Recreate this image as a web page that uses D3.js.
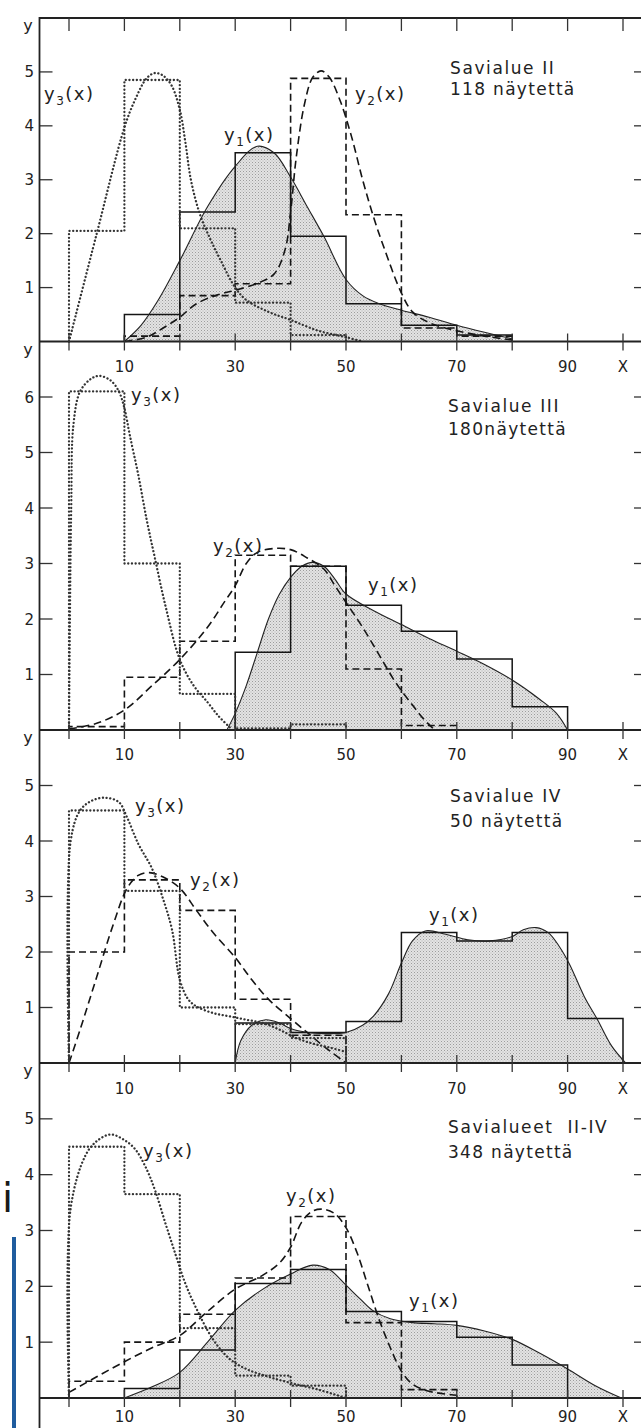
<!DOCTYPE html>
<html><head><meta charset="utf-8">
<script src="https://cdn.jsdelivr.net/npm/d3@7"></script>
<style>html,body{margin:0;padding:0;background:#fff;}svg{display:block;}</style>
</head><body>
<svg id="c" width="641" height="1428"></svg>
<script>
// ---------- DATA ----------
const binStarts = [0,10,20,30,40,50,60,70,80,90];
const xTickValues = [0,10,20,30,40,50,60,70,80,90,100];
const xLabelValues = [10,30,50,70,90,100];
const xLabelTexts = ["10","30","50","70","90","X"];

const p1Title = ["Savialue II","118 näytettä"];
const p1YMax = 6;
const p1Y1Hist = [null,0.5,2.4,3.5,1.95,0.7,0.3,0.12,null,null];
const p1Y2Hist = [null,0.1,0.85,1.07,4.88,2.35,0.25,0.1,null,null];
const p1Y3Hist = [2.05,4.85,2.1,0.72,0.12,null,null,null,null,null];
const p1Y1Curve = [[10,0],[13,0.3],[16,0.75],[20,1.5],[25,2.5],[30,3.25],[34,3.62],[37,3.5],[40,3.05],[43,2.5],[46,1.95],[50,1.15],[53,0.85],[56,0.7],[60,0.58],[65,0.45],[70,0.3],[75,0.17],[80,0.05]];
const p1Y2Curve = [[10,0],[14,0.08],[17,0.25],[20,0.45],[23,0.7],[27,0.87],[30,0.95],[34,1.08],[37,1.25],[39,1.7],[40,2.4],[41,3.4],[42.5,4.4],[44,4.9],[45.5,5.02],[47,4.9],[49,4.45],[51,3.8],[53,3.0],[55,2.3],[57,1.7],[60,0.9],[62,0.55],[65,0.35],[70,0.2],[75,0.1],[80,0.03]];
const p1Y3Curve = [[0,0],[5,2.0],[10,3.97],[12,4.5],[14,4.88],[15.5,4.98],[17,4.93],[18.5,4.75],[20,4.3],[21,3.7],[22,3.0],[23.6,2.37],[25.5,1.9],[27.4,1.5],[30,1.0],[32,0.77],[36,0.55],[40,0.4],[45,0.2],[50,0.08],[53,0]];

const p2Title = ["Savialue III","180näytettä"];
const p2YMax = 7;
const p2Y1Hist = [null,null,null,1.4,2.95,2.25,1.78,1.28,0.42,null];
const p2Y2Hist = [0.06,0.95,1.6,3.15,2.95,1.1,0.08,null,null,null];
const p2Y3Hist = [6.1,3.0,0.65,0.03,0.1,null,null,null,null,null];
const p2Y1Curve = [[28.5,0],[30,0.3],[32,0.8],[34,1.4],[36,2.0],[38,2.45],[40,2.75],[42,2.95],[44,3.02],[46,2.95],[48,2.72],[50,2.45],[55,2.15],[60,1.9],[65,1.65],[70,1.42],[75,1.18],[80,0.9],[85,0.55],[88,0.3],[90,0]];
const p2Y2Curve = [[0,0.02],[5,0.12],[10,0.36],[15,0.8],[20,1.27],[25,1.85],[28,2.3],[30,2.6],[32,3.0],[34,3.2],[37,3.27],[40,3.25],[43,3.1],[46,2.9],[48,2.6],[50,2.3],[53,1.85],[56,1.35],[59,0.85],[62,0.45],[64,0.2],[66,0]];
const p2Y3Curve = [[0,0],[0.4,4],[0.8,5.5],[2,6.1],[4,6.33],[5.5,6.38],[7.5,6.3],[9,6.1],[10,5.8],[11,5.3],[12.5,4.6],[14,3.8],[15.5,3.1],[17.5,2.2],[20,1.27],[22.5,0.8],[25,0.5],[27,0.25],[29,0.05]];

const p3Title = ["Savialue IV","50 näytettä"];
const p3YMax = 6;
const p3Y1Hist = [null,null,null,0.72,0.55,0.75,2.35,2.2,2.35,0.8];
const p3Y2Hist = [2.0,3.3,2.75,1.15,0.5,null,null,null,null,null];
const p3Y3Hist = [4.55,3.1,1.0,0.7,0.45,null,null,null,null,null];
const p3Y1Curve = [[30,0],[31,0.4],[33,0.68],[35.5,0.78],[38,0.72],[40,0.62],[43,0.55],[46,0.53],[50,0.55],[53,0.68],[55,0.85],[57.7,1.25],[60,1.8],[62,2.2],[64.3,2.38],[68,2.32],[72,2.22],[76,2.2],[80,2.28],[82,2.4],[84.3,2.44],[86.5,2.35],[88.5,2.1],[90.3,1.79],[93,1.2],[95.4,0.78],[98,0.3],[100.5,0]];
const p3Y2Curve = [[0,0],[2,0.6],[5,1.55],[8,2.5],[10.5,3.15],[12.5,3.38],[14.5,3.43],[17,3.35],[20,3.15],[23,2.75],[26,2.35],[30,1.9],[33,1.5],[36,1.15],[40,0.8],[43,0.55],[46,0.3],[50,0]];
const p3Y3Curve = [[0,0],[0.3,4.0],[2,4.55],[4,4.72],[6.5,4.78],[9,4.7],[10.5,4.42],[12.5,3.95],[15,3.5],[17,2.95],[18.6,2.4],[20,1.5],[21.5,1.15],[23,1.02],[26,0.9],[29,0.84],[32,0.78],[35,0.72],[38,0.6],[41,0.45],[44,0.35],[47,0.28],[50,0.2]];

const p4Title = ["Savialueet  II-IV","348 näytettä"];
const p4YMax = 6;
const p4Y1Hist = [null,0.17,0.86,2.05,2.3,1.55,1.37,1.09,0.59,null];
const p4Y2Hist = [0.3,1.0,1.5,2.15,3.25,1.35,0.15,null,null,null];
const p4Y3Hist = [4.5,3.65,1.25,0.4,0.22,null,null,null,null,null];
const p4Y1Curve = [[10,0],[15,0.2],[20,0.46],[25,1.0],[30,1.57],[35,1.95],[40,2.22],[44,2.38],[47,2.3],[50,2.02],[52.5,1.78],[54.8,1.57],[58,1.42],[62,1.35],[66,1.33],[70,1.3],[75,1.2],[80,1.05],[85,0.8],[90,0.52],[95,0.22],[99.7,0]];
const p4Y2Curve = [[0,0.1],[5,0.38],[10,0.65],[15,0.9],[20,1.12],[25,1.55],[30,1.95],[35,2.2],[38,2.42],[40,2.7],[42,3.15],[44,3.35],[46,3.38],[48,3.3],[50,3.05],[52,2.6],[54,2.0],[56,1.4],[58,0.9],[60,0.48],[62,0.25],[65,0.12],[70,0.05]];
const p4Y3Curve = [[0,0],[0.3,3.4],[3,4.35],[5,4.6],[7.5,4.72],[10,4.62],[12,4.45],[14,4.1],[15.6,3.7],[17.5,3.1],[19.3,2.55],[21,2.05],[23,1.6],[26,1.05],[29,0.7],[32,0.52],[36,0.38],[40,0.27],[45,0.15],[50,0]];

// ---------- LAYOUT ----------
const svg = d3.select("#c");
const FONT = "'DejaVu Sans', sans-serif";
const axisX = 39.5;
const x = d3.scaleLinear().domain([0,100]).range([69,623]);

const defs = svg.append("defs");
const pat = defs.append("pattern").attr("id","stip").attr("patternUnits","userSpaceOnUse").attr("width",3).attr("height",3);
pat.append("rect").attr("width",3).attr("height",3).attr("fill","#e3e3e3");
pat.append("rect").attr("x",0).attr("y",0).attr("width",1).attr("height",1).attr("fill","#9c9c9c");
pat.append("rect").attr("x",1.5).attr("y",1.5).attr("width",1).attr("height",1).attr("fill","#b5b5b5");

const panels = [
  {top:18, base:341.5, yMax:p1YMax, title:p1Title, h:[p1Y1Hist,p1Y2Hist,p1Y3Hist], c:[p1Y1Curve,p1Y2Curve,p1Y3Curve], labOff:30,
   tpos:[450,74,95], lab:[[44,100,"3"],[224,141,"1"],[355,100,"2"]]},
  {top:341.5, base:730, yMax:p2YMax, title:p2Title, h:[p2Y1Hist,p2Y2Hist,p2Y3Hist], c:[p2Y1Curve,p2Y2Curve,p2Y3Curve], labOff:30,
   tpos:[448,412,435], lab:[[131,401,"3"],[213,552,"2"],[368,591,"1"]]},
  {top:730, base:1063, yMax:p3YMax, title:p3Title, h:[p3Y1Hist,p3Y2Hist,p3Y3Hist], c:[p3Y1Curve,p3Y2Curve,p3Y3Curve], labOff:31,
   tpos:[450,802,827], lab:[[135,812,"3"],[190,886,"2"],[429,921,"1"]]},
  {top:1063, base:1398, yMax:p4YMax, title:p4Title, h:[p4Y1Hist,p4Y2Hist,p4Y3Hist], c:[p4Y1Curve,p4Y2Curve,p4Y3Curve], labOff:24,
   tpos:[448,1133,1158], lab:[[143,1157,"3"],[286,1202,"2"],[409,1307,"1"]]}
];

function histPoints(vals){
  let i0 = vals.findIndex(v=>v!=null), i1 = vals.length-1;
  while(vals[i1]==null) i1--;
  const pts = [[binStarts[i0],0]];
  for(let i=i0;i<=i1;i++) pts.push([binStarts[i], vals[i]]);
  pts.push([binStarts[i1]+10, vals[i1]]);
  pts.push([binStarts[i1]+10, 0]);
  return pts;
}

const styles = [
  {stroke:"#151515", w:1.5, dash:null},
  {stroke:"#151515", w:1.6, dash:"7,4"},
  {stroke:"#333", w:2.3, dash:"0.1,3.6"}
];
const curveStyles = [
  {stroke:"#222", w:1.1, dash:null},
  {stroke:"#151515", w:1.6, dash:"8,4.5"},
  {stroke:"#333", w:2.3, dash:"0.1,3.6"}
];

panels.forEach((p,pi)=>{
  const y = d3.scaleLinear().domain([0,p.yMax]).range([p.base,p.top]);
  const g = svg.append("g");
  const area = d3.area().x(d=>x(d[0])).y0(y(0)).y1(d=>y(d[1])).curve(d3.curveCatmullRom.alpha(0.5));
  g.append("path").attr("d",area(p.c[0])).attr("fill","url(#stip)");
  const line = d3.line().x(d=>x(d[0])).y(d=>y(d[1])).curve(d3.curveCatmullRom.alpha(0.5));
  const step = d3.line().x(d=>x(d[0])).y(d=>y(d[1])).curve(d3.curveStepAfter);
  [0,1,2].forEach(k=>{
    const s = styles[k], cs = curveStyles[k];
    g.append("path").attr("d",step(histPoints(p.h[k]))).attr("fill","none")
      .attr("stroke",s.stroke).attr("stroke-width",s.w).attr("stroke-linecap", k==2?"round":"butt")
      .attr("stroke-dasharray",s.dash);
    g.append("path").attr("d",line(p.c[k])).attr("fill","none")
      .attr("stroke",cs.stroke).attr("stroke-width",cs.w).attr("stroke-linecap", k==2?"round":"butt")
      .attr("stroke-dasharray",cs.dash);
  });
  g.append("line").attr("x1",axisX).attr("x2",641).attr("y1",p.base).attr("y2",p.base).attr("stroke","#222").attr("stroke-width",1.8);
  xTickValues.forEach(v=>{
    g.append("line").attr("x1",x(v)).attr("x2",x(v)).attr("y1",p.base-8).attr("y2",p.base+9).attr("stroke","#333").attr("stroke-width",1.3);
  });
  xLabelValues.forEach((v,i)=>{
    g.append("text").attr("x",x(v)).attr("y",p.base+p.labOff).attr("text-anchor","middle")
      .attr("font-family",FONT).attr("font-size",15).attr("fill","#222").text(xLabelTexts[i]);
  });
  const yt = d3.range(1,p.yMax);
  yt.forEach(v=>{
    g.append("line").attr("x1",axisX).attr("x2",axisX+13).attr("y1",y(v)).attr("y2",y(v)).attr("stroke","#333").attr("stroke-width",1.3);
    g.append("line").attr("x1",634).attr("x2",641).attr("y1",y(v)).attr("y2",y(v)).attr("stroke","#333").attr("stroke-width",1.3);
    g.append("text").attr("x",34).attr("y",y(v)+5.5).attr("text-anchor","end")
      .attr("font-family",FONT).attr("font-size",15).attr("fill","#222").text(v);
  });
  g.append("text").attr("x",28).attr("y",p.top+13).attr("text-anchor","middle")
    .attr("font-family",FONT).attr("font-size",16).attr("fill","#222").text("y");
  g.append("text").attr("x",p.tpos[0]).attr("y",p.tpos[1]).attr("font-family",FONT).attr("font-size",17)
    .attr("letter-spacing",1.6).attr("fill","#222").attr("xml:space","preserve").text(p.title[0]);
  g.append("text").attr("x",p.tpos[0]).attr("y",p.tpos[2]).attr("font-family",FONT).attr("font-size",17)
    .attr("letter-spacing",1.3).attr("fill","#222").text(p.title[1]);
  p.lab.forEach(l=>{
    const t = g.append("text").attr("x",l[0]).attr("y",l[1]).attr("font-family",FONT).attr("font-size",18)
      .attr("letter-spacing",1.5).attr("fill","#222");
    t.append("tspan").text("y");
    t.append("tspan").attr("dy",5).attr("font-size",12).text(l[2]);
    t.append("tspan").attr("dy",-5).text("(x)");
  });
});

svg.append("line").attr("x1",axisX).attr("x2",641).attr("y1",18).attr("y2",18).attr("stroke","#222").attr("stroke-width",1.8);
xTickValues.forEach(v=>{
  svg.append("line").attr("x1",x(v)).attr("x2",x(v)).attr("y1",18).attr("y2",31).attr("stroke","#333").attr("stroke-width",1.3);
});
svg.append("line").attr("x1",axisX).attr("x2",axisX).attr("y1",17).attr("y2",1428).attr("stroke","#222").attr("stroke-width",1.8);

// page artefacts at left edge (cut off in the reference as well)
svg.append("text").attr("x",13).attr("y",1212).attr("text-anchor","end").attr("font-family",FONT)
  .attr("font-size",40).attr("fill","#1a1a1a").text("ni");
svg.append("rect").attr("x",12).attr("y",1237).attr("width",4).attr("height",191).attr("fill","#1f5c9e");
</script>
</body></html>
